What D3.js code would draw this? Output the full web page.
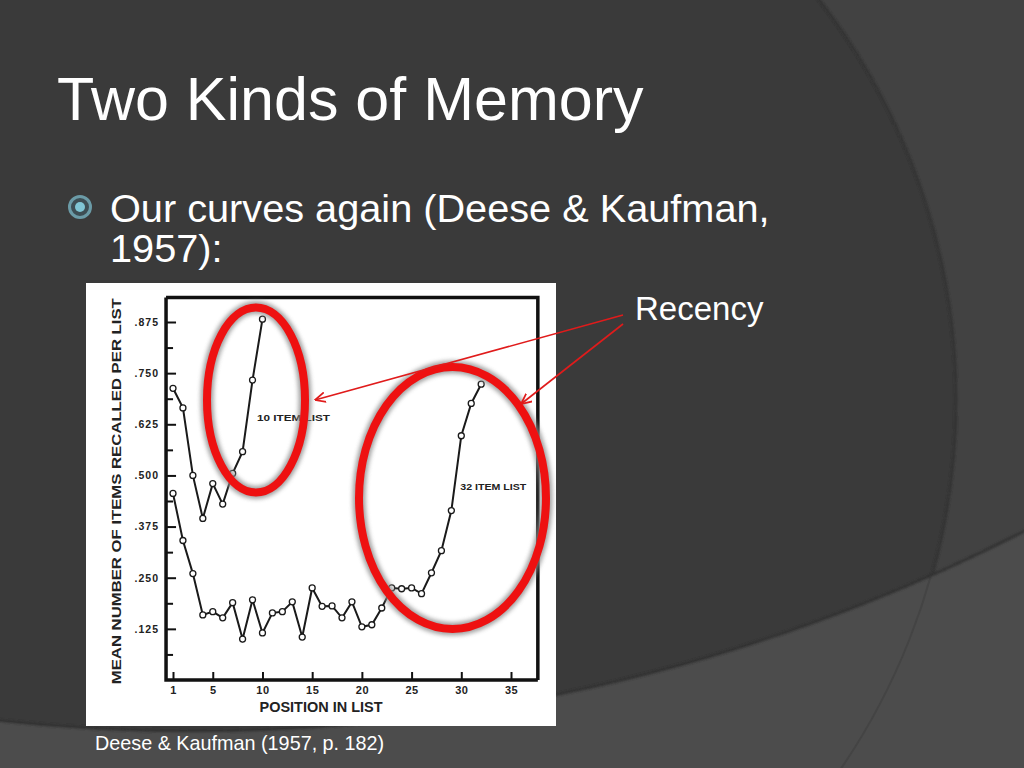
<!DOCTYPE html>
<html>
<head>
<meta charset="utf-8">
<script src="https://cdn.jsdelivr.net/npm/d3@7"></script>
<style>
  html, body { margin: 0; padding: 0; background: #3a3a3a; }
  svg { display: block; }
</style>
</head>
<body>
<svg id="slide" width="1024" height="768"></svg>
<script>
// ---------------- data ----------------
const positions10 = [1, 2, 3, 4, 5, 6, 7, 8, 9, 10];
const recall10 = [0.713, 0.665, 0.500, 0.395, 0.480, 0.430, 0.505, 0.558, 0.733, 0.882];

const positions32 = [1, 2, 3, 4, 5, 6, 7, 8, 9, 10, 11, 12, 13, 14, 15, 16,
                     17, 18, 19, 20, 21, 22, 23, 24, 25, 26, 27, 28, 29, 30, 31, 32];
const recall32 = [0.456, 0.341, 0.260, 0.159, 0.167, 0.152, 0.189, 0.100, 0.196, 0.115,
                  0.164, 0.167, 0.191, 0.105, 0.225, 0.180, 0.181, 0.152, 0.191, 0.130,
                  0.135, 0.176, 0.225, 0.223, 0.225, 0.211, 0.262, 0.316, 0.414, 0.597,
                  0.676, 0.723];

const yMajorTicks = [0.125, 0.25, 0.375, 0.5, 0.625, 0.75, 0.875];
const yMajorLabels = [".125", ".250", ".375", ".500", ".625", ".750", ".875"];
const yMinorTicks = [0.0625, 0.1875, 0.3125, 0.4375, 0.5625, 0.6875, 0.8125];
const xTicks = [1, 5, 10, 15, 20, 25, 30, 35];

const titleText = "Two Kinds of Memory";
const bulletLines = ["Our curves again (Deese & Kaufman,", "1957):"];
const yAxisTitle = "MEAN NUMBER OF ITEMS RECALLED PER LIST";
const xAxisTitle = "POSITION IN LIST";
const seriesLabels = ["10 ITEM LIST", "32 ITEM LIST"];
const calloutText = "Recency";
const captionText = "Deese & Kaufman (1957, p. 182)";

// ---------------- slide background ----------------
const svg = d3.select("#slide");
const defs = svg.append("defs");

defs.append("clipPath").attr("id", "upperClip")
  .append("circle").attr("cx", 194).attr("cy", -1094).attr("r", 1825);

defs.append("filter").attr("id", "soft")
  .attr("x", "-20%").attr("y", "-20%").attr("width", "140%").attr("height", "140%")
  .append("feGaussianBlur").attr("stdDeviation", 1.2);

defs.append("filter").attr("id", "glow")
  .attr("x", "-20%").attr("y", "-20%").attr("width", "140%").attr("height", "140%")
  .append("feGaussianBlur").attr("stdDeviation", 2.2);

defs.append("marker").attr("id", "arrowHead")
  .attr("viewBox", "0 0 10 10").attr("refX", 9.5).attr("refY", 5)
  .attr("markerUnits", "userSpaceOnUse").attr("markerWidth", 11).attr("markerHeight", 11)
  .attr("orient", "auto")
  .append("path").attr("d", "M0,0.5 L9.5,5 L0,9.5")
  .attr("fill", "none").attr("stroke", "#e01b1b").attr("stroke-width", 1.6);

const bg = svg.append("g");
// lower band
bg.append("rect").attr("width", 1024).attr("height", 768).attr("fill", "#4c4c4c");
// faint arc continuing in the lower band
bg.append("circle").attr("cx", 303).attr("cy", 400).attr("r", 652)
  .attr("fill", "none").attr("stroke", "#444").attr("stroke-width", 2);

const upper = bg.append("g").attr("clip-path", "url(#upperClip)");
upper.append("rect").attr("width", 1024).attr("height", 768).attr("fill", "#424242");
upper.append("circle").attr("cx", 303).attr("cy", 400).attr("r", 652).attr("fill", "#3a3a3a");
upper.append("circle").attr("cx", 303).attr("cy", 400).attr("r", 653)
  .attr("fill", "none").attr("stroke", "#303030").attr("stroke-width", 2.5)
  .attr("filter", "url(#soft)");
bg.append("circle").attr("cx", 194).attr("cy", -1094).attr("r", 1825)
  .attr("fill", "none").attr("stroke", "#303030").attr("stroke-width", 2.5)
  .attr("filter", "url(#soft)");

// ---------------- slide text ----------------
svg.append("text").attr("x", 57).attr("y", 120)
  .attr("font-family", "Liberation Sans, Arial, sans-serif").attr("font-size", 61)
  .attr("fill", "#ffffff").text(titleText);

const bullet = svg.append("g").attr("transform", "translate(80,207)");
bullet.append("circle").attr("r", 10.5).attr("fill", "#3d4e54")
  .attr("stroke", "#6b9ba7").attr("stroke-width", 3);
bullet.append("circle").attr("r", 5).attr("fill", "#80c6d5");

svg.append("g").selectAll("text").data(bulletLines).join("text")
  .attr("x", 110).attr("y", (d, i) => 222 + i * 40)
  .attr("font-family", "Liberation Sans, Arial, sans-serif").attr("font-size", 39.7)
  .attr("fill", "#ffffff").text(d => d);

svg.append("text").attr("x", 95).attr("y", 750)
  .attr("font-family", "Liberation Sans, Arial, sans-serif").attr("font-size", 19.8)
  .attr("fill", "#ffffff").text(captionText);

svg.append("text").attr("x", 635).attr("y", 320)
  .attr("font-family", "Liberation Sans, Arial, sans-serif").attr("font-size", 33)
  .attr("fill", "#ffffff").text(calloutText);

// ---------------- the figure ----------------
const fig = svg.append("g");
fig.append("rect").attr("x", 86).attr("y", 283).attr("width", 470).attr("height", 443)
  .attr("fill", "#ffffff");

const x = d3.scaleLinear().domain([1, 35]).range([173, 511]);
const y = d3.scaleLinear().domain([0, 0.875]).range([680, 322]);

const frameL = x(0.3), frameR = x(37.7), frameT = y(0.935), frameB = y(0);

// frame (top and right)
fig.append("path")
  .attr("d", `M${frameL},${frameT} L${frameR},${frameT} L${frameR},${frameB}`)
  .attr("fill", "none").attr("stroke", "#111").attr("stroke-width", 3.5);

const fontFig = "Liberation Sans, Arial, sans-serif";

// y axis: minor ticks
fig.append("g").attr("transform", `translate(${frameL},0)`)
  .call(d3.axisLeft(y).tickValues(yMinorTicks).tickSize(-7).tickFormat(""))
  .call(g => g.select(".domain").remove())
  .call(g => g.selectAll("line").attr("stroke", "#111").attr("stroke-width", 2));

// y axis: major ticks
const yAx = fig.append("g").attr("transform", `translate(${frameL},0)`)
  .call(d3.axisLeft(y).tickValues(yMajorTicks).tickSize(-10).tickPadding(7)
    .tickFormat((d, i) => yMajorLabels[i]));
yAx.select(".domain").remove();
yAx.selectAll("line").attr("stroke", "#111").attr("stroke-width", 2);
yAx.selectAll("text").attr("font-family", fontFig).attr("font-weight", "bold")
  .attr("font-size", 10.5).attr("letter-spacing", 1).attr("fill", "#222");

// x axis
const xAx = fig.append("g").attr("transform", `translate(0,${frameB})`)
  .call(d3.axisBottom(x).tickValues(xTicks).tickSize(-8).tickPadding(6));
xAx.select(".domain").remove();
xAx.selectAll("line").attr("stroke", "#111").attr("stroke-width", 2);
xAx.selectAll("text").attr("font-family", fontFig).attr("font-weight", "bold")
  .attr("font-size", 11).attr("letter-spacing", 0.5).attr("fill", "#222");

// axis lines (left and bottom)
fig.append("path")
  .attr("d", `M${frameL},${frameT} L${frameL},${frameB} L${frameR},${frameB}`)
  .attr("fill", "none").attr("stroke", "#111").attr("stroke-width", 3.5);

// axis titles
fig.append("text")
  .attr("transform", `translate(121,${(frameT + 685) / 2}) rotate(-90)`)
  .attr("text-anchor", "middle").attr("font-family", fontFig).attr("font-weight", "bold")
  .attr("font-size", 13).attr("textLength", 386).attr("lengthAdjust", "spacingAndGlyphs")
  .attr("fill", "#222").text(yAxisTitle);

fig.append("text").attr("x", 321).attr("y", 712)
  .attr("text-anchor", "middle").attr("font-family", fontFig).attr("font-weight", "bold")
  .attr("font-size", 14).attr("textLength", 123).attr("lengthAdjust", "spacingAndGlyphs")
  .attr("fill", "#222").text(xAxisTitle);

// series
const line = d3.line().x(d => x(d[0])).y(d => y(d[1]));
const series = [
  positions10.map((p, i) => [p, recall10[i]]),
  positions32.map((p, i) => [p, recall32[i]])
];

fig.append("g").selectAll("path").data(series).join("path")
  .attr("d", line).attr("fill", "none").attr("stroke", "#1a1a1a").attr("stroke-width", 2);

fig.append("g").selectAll("g").data(series).join("g")
  .selectAll("circle").data(d => d).join("circle")
  .attr("cx", d => x(d[0])).attr("cy", d => y(d[1])).attr("r", 3)
  .attr("fill", "#ffffff").attr("stroke", "#1a1a1a").attr("stroke-width", 1.3);

// series labels
fig.append("text").attr("x", x(9.45)).attr("y", y(0.64) + 3)
  .attr("font-family", fontFig).attr("font-weight", "bold").attr("font-size", 9)
  .attr("textLength", 73).attr("lengthAdjust", "spacingAndGlyphs")
  .attr("fill", "#222").text(seriesLabels[0]);
fig.append("text").attr("x", x(29.9)).attr("y", y(0.472) + 3)
  .attr("font-family", fontFig).attr("font-weight", "bold").attr("font-size", 9)
  .attr("textLength", 66).attr("lengthAdjust", "spacingAndGlyphs")
  .attr("fill", "#222").text(seriesLabels[1]);

// ---------------- annotations ----------------
const ellipses = [
  { cx: 256, cy: 400, rx: 49, ry: 92.5 },
  { cx: 452.5, cy: 498, rx: 93.5, ry: 131 }
];
const ann = svg.append("g");
ann.selectAll("ellipse.glow").data(ellipses).join("ellipse").attr("class", "glow")
  .attr("cx", d => d.cx).attr("cy", d => d.cy).attr("rx", d => d.rx).attr("ry", d => d.ry)
  .attr("fill", "none").attr("stroke", "#8c8c8c").attr("stroke-width", 13)
  .attr("opacity", 0.8).attr("filter", "url(#glow)");
ann.selectAll("ellipse.ring").data(ellipses).join("ellipse").attr("class", "ring")
  .attr("cx", d => d.cx).attr("cy", d => d.cy).attr("rx", d => d.rx).attr("ry", d => d.ry)
  .attr("fill", "none").attr("stroke", "#ee1111").attr("stroke-width", 8);

const arrows = [
  { x1: 623, y1: 315, x2: 315, y2: 400 },
  { x1: 623, y1: 324, x2: 521, y2: 404 }
];
ann.selectAll("line").data(arrows).join("line")
  .attr("x1", d => d.x1).attr("y1", d => d.y1).attr("x2", d => d.x2).attr("y2", d => d.y2)
  .attr("stroke", "#e01b1b").attr("stroke-width", 1.6)
  .attr("marker-end", "url(#arrowHead)");
</script>
</body>
</html>
